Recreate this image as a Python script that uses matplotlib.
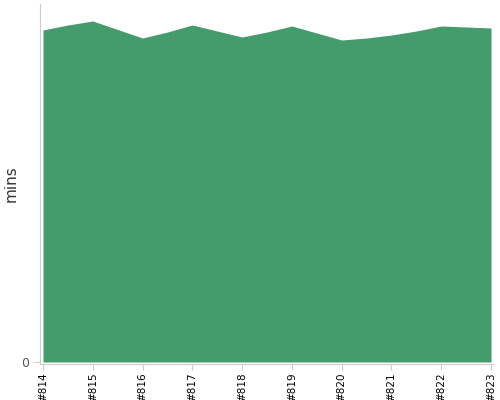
import numpy as np
import matplotlib
matplotlib.use("Agg")
import matplotlib.pyplot as plt

# build numbers (half steps are intermediate samples between builds)
builds = [814, 814.5, 815, 815.5, 816, 816.5, 817, 817.5, 818, 818.5,
          819, 819.5, 820, 820.5, 821, 821.5, 822, 822.5, 823]
mins = [33.2, 33.7, 34.1, 33.25, 32.4, 33.0, 33.7, 33.1, 32.5, 33.0,
        33.6, 32.9, 32.2, 32.4, 32.7, 33.1, 33.6, 33.5, 33.4]
tick_builds = [814, 815, 816, 817, 818, 819, 820, 821, 822, 823]
tick_labels = ["#%d" % b for b in tick_builds]

fig = plt.figure(figsize=(5, 4), dpi=100)
ax = fig.add_axes([0.08, 0.09, 0.906, 0.9])

ax.fill_between(builds, mins, 0, color="#449c6c", linewidth=0)

ax.set_xlim(813.94, 823.04)
ax.set_ylim(-0.2, 35.8)
ax.set_xticks(tick_builds)
ax.set_xticklabels(tick_labels, rotation=90, fontsize=7.5, color="black")
ax.set_yticks([0])
ax.set_yticklabels(["0"], fontsize=9, color="#555555")
ax.set_ylabel("mins", fontsize=11, color="#333333", labelpad=2)

for side in ["top", "right"]:
    ax.spines[side].set_visible(False)
for side in ["left", "bottom"]:
    ax.spines[side].set_color("#cccccc")
ax.tick_params(axis="both", length=4, color="#cccccc")
ax.tick_params(axis="x", pad=2)

fig.savefig("out.png", dpi=100)
